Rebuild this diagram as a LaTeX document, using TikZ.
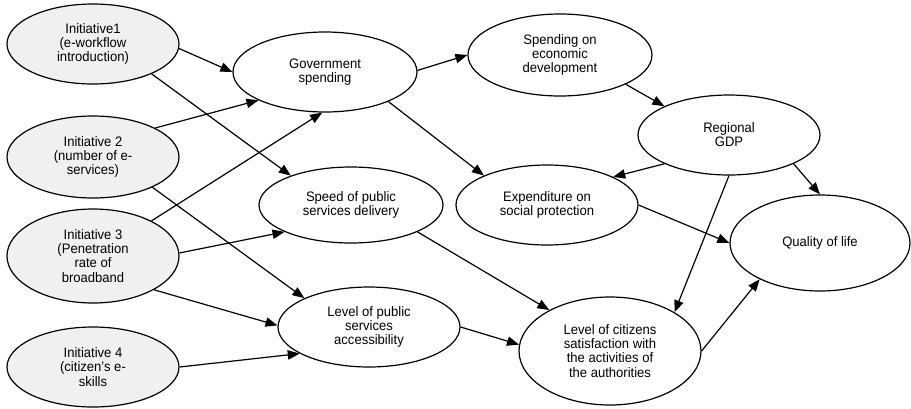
\documentclass[tikz,border=0pt]{standalone}
\usepackage{fontspec}
\setmainfont{Liberation Sans}[FakeStretch=0.95]
\usetikzlibrary{shapes.geometric,arrows.meta}
\begin{document}
\begin{tikzpicture}[x=0.75pt,y=-0.75pt,
  oval/.style 2 args={ellipse, draw, line width=0.9pt, inner sep=0pt, align=center,
    minimum width=#1*1.5pt, minimum height=#2*1.5pt,
    font=\fontsize{10.3}{10.6}\selectfont},
  init/.style={fill=black!6},
  arr/.style={-{Triangle[length=9pt,width=7pt]}, line width=0.9pt}]
\useasboundingbox (0,0) rectangle (911,408);
\node[oval={86}{40},init] (i1) at (93,44) {Initiative1\\(e-workflow\\introduction)};
\node[oval={86}{41},init] (i2) at (93,157) {Initiative 2\\(number of e-\\services)};
\node[oval={86}{47},init] (i3) at (93,256) {Initiative 3\\(Penetration\\rate of\\broadband};
\node[oval={86}{40},init] (i4) at (93,367) {Initiative 4\\(citizen's e-\\skills};
\node[oval={92}{40}] (gov) at (325,72) {Government\\spending};
\node[oval={92}{38}] (speed) at (351,205) {Speed of public\\services delivery};
\node[oval={91}{40}] (acc) at (369,327) {Level of public\\services\\accessibility};
\node[oval={92}{41}] (econ) at (560,55) {Spending on\\economic\\development};
\node[oval={91}{40}] (gdp) at (729,135) {Regional\\GDP};
\node[oval={91}{40}] (soc) at (547,205) {Expenditure on\\social protection};
\node[oval={90}{48}] (qol) at (820,243) {Quality of life};
\node[oval={91}{54}] (cit) at (610,351) {Level of citizens\\satisfaction with\\the activities of\\the authorities};
\draw[arr] (i1.-3) -- (gov.180);
\draw[arr] (i1.-27) -- (speed.154);
\draw[arr] (i2.25) -- (gov.203);
\draw[arr] (i2.-27) -- (acc.156);
\draw[arr] (i3.31) -- (gov.266);
\draw[arr] (i3.2) -- (speed.202);
\draw[arr] (i3.-29) -- (acc.179);
\draw[arr] (i4.0) -- (acc.201);
\draw[arr] (gov.1) -- (econ.180);
\draw[arr] (gov.-25) -- (soc.155);
\draw[arr] (econ.-24) -- (gdp.156);
\draw[arr] (gdp.204) -- (soc.23);
\draw[arr] (gdp.-24) -- (qol.90);
\draw[arr] (gdp.-90) -- (cit.31);
\draw[arr] (soc.0) -- (qol.180);
\draw[arr] (speed.-22) -- (cit.146);
\draw[arr] (acc.0) -- (cit.176);
\draw[arr] (cit.0) -- (qol.211);
\end{tikzpicture}
\end{document}
